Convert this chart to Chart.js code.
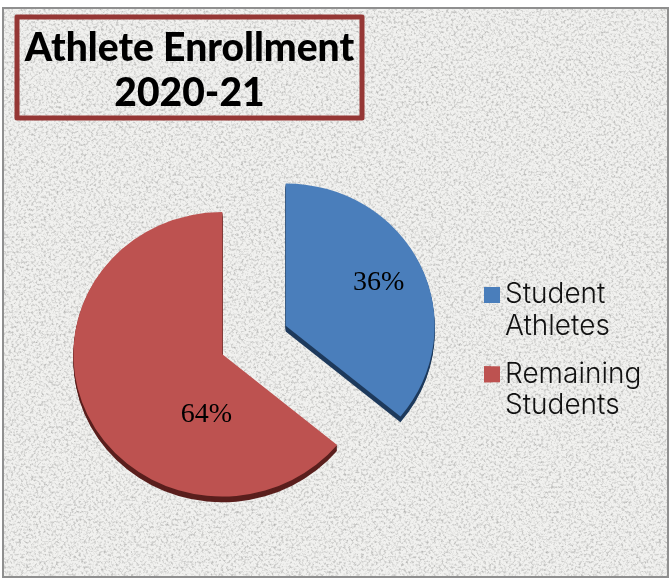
<!DOCTYPE html>
<html><head><meta charset="utf-8">
<style>
html,body{margin:0;padding:0;background:#fff;width:670px;height:581px;overflow:hidden}
#frame{position:absolute;left:2px;top:7px;width:663px;height:567px;border:2px solid #8f8f8f;background-color:#f1f1ef;overflow:hidden}
#frame svg{position:absolute;left:0;top:0}
canvas{position:absolute;left:0;top:0}
</style>
<script src="https://cdn.jsdelivr.net/npm/chart.js@4"></script>
</head><body>
<div id="frame"><svg width="663" height="567"><filter id="n" x="0" y="0" width="100%" height="100%"><feTurbulence type="fractalNoise" baseFrequency="0.4" numOctaves="4" seed="7"/><feColorMatrix values="0 0 0 0 0.45  0 0 0 0 0.45  0 0 0 0 0.44  2.2 0 0 0 -1.0"/></filter><rect width="663" height="567" filter="url(#n)"/></svg></div>
<canvas id="c" width="670" height="581"></canvas>
<script>
const categories = [['Student','Athletes'],['Remaining','Students']];
const shares = [36, 64];
const percentLabels = ['36%','64%'];
const titleLines = ['Athlete Enrollment','2020-21'];
const sliceColors = ['#4a7ebb','#bd5250'];
const sideColors = ['#1e3a5c','#5a1f1d'];

const squash = 0.955, depth = 6, explode = 35;
const labelShift = [[93,-43],[-16,60]];

const scene = {
  id:'scene',
  beforeDraw(chart){
    const c = chart.ctx, b = {l:17,t:17,r:362,b:118};
    c.save();
    c.strokeStyle='#953735'; c.lineWidth=5; c.lineJoin='round';
    c.strokeRect(b.l,b.t,b.r-b.l,b.b-b.t);
    c.restore();
  },
  afterLayout(chart){
    const t = chart.titleBlock;
    t.left=17; t.right=362; t.top=26; t.bottom=118; t.width=345; t.height=92;
    const l = chart.legend;
    l.left=468; l.top=265; l.right=668; l.bottom=421; l.width=200; l.height=156;
    chart.chartArea = {left:0,top:99,right:508,bottom:581,width:508,height:482};
  },
  beforeDatasetsDraw(chart){
    const c = chart.ctx, arcs = chart.getDatasetMeta(0).data;
    const y0 = arcs[0].y;
    c.save();
    c.translate(0,y0); c.scale(1,squash); c.translate(0,-y0);
    const shift = a => { const m=(a.startAngle+a.endAngle)/2; return [explode*Math.cos(m),explode*Math.sin(m)]; };
    for(let d=depth; d>0; d--){
      arcs.forEach((a,i)=>{
        const [dx,dy]=shift(a), x=a.x+dx, y=a.y+dy+d;
        c.beginPath(); c.moveTo(x,y); c.arc(x,y,a.outerRadius,a.startAngle,a.endAngle); c.closePath();
        c.fillStyle=sideColors[i]; c.fill();
      });
    }
    arcs.forEach(a=>{
      const [dx,dy]=shift(a);
      c.save(); c.translate(dx,dy); a.draw(c); c.restore();
    });
    c.restore();
    c.save();
    c.font='28px "Liberation Serif"'; c.fillStyle='#000'; c.textAlign='center'; c.textBaseline='middle';
    arcs.forEach((a,i)=>{
      const [dx,dy]=shift(a);
      c.fillText(percentLabels[i],a.x+dx+labelShift[i][0],a.y+dy*squash+labelShift[i][1]);
    });
    c.restore();
    return false;
  },
  afterDraw(chart){
    const c = chart.ctx, l = chart.legend;
    l.legendHitBoxes.forEach((h,i)=>{
      c.fillStyle=sliceColors[i];
      c.fillRect(h.left,h.top+6,16,16);
    });
  }
};

new Chart(document.getElementById('c'),{
  type:'pie',
  data:{labels:categories,datasets:[{data:shares,backgroundColor:sliceColors,borderWidth:0,offset:0,radius:149,clip:false}]},
  options:{
    responsive:false,animation:false,
    plugins:{
      tooltip:{enabled:false},
      title:{display:true,text:titleLines,color:'#000',font:{family:'Lato',size:39,weight:'900',lineHeight:1.16},padding:0},
      legend:{display:true,position:'right',align:'start',
        labels:{boxWidth:7,boxHeight:16,color:'#111',padding:16,font:{family:'Inter',size:28,weight:'300',lineHeight:1.13}}}
    }
  },
  plugins:[scene]
});
</script>
</body></html>
